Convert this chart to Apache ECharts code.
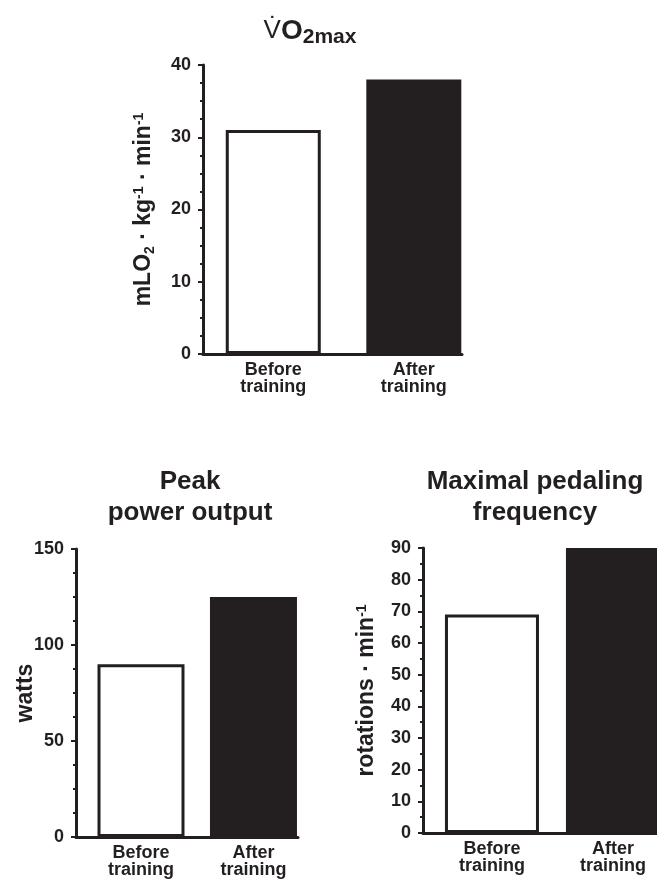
<!DOCTYPE html>
<html>
<head>
<meta charset="utf-8">
<script src="https://cdn.jsdelivr.net/npm/echarts@6/dist/echarts.min.js"></script>
<style>
  html, body { margin: 0; padding: 0; background: #fff; }
  #chart { width: 657px; height: 880px; }
</style>
</head>
<body>
<div id="chart"></div>
<script>
// data
var categories = ['Before\ntraining', 'After\ntraining'];
var vo2Values = [31, 38];
var powerValues = [90, 125];
var pedalValues = [69, 90];
var vo2Ticks = [0, 10, 20, 30, 40];
var powerTicks = [0, 50, 100, 150];
var pedalTicks = [0, 10, 20, 30, 40, 50, 60, 70, 80, 90];

var ink = '#231f20';
var font = '"Liberation Sans", Arial, Helvetica, sans-serif';

var myChart = echarts.init(document.getElementById('chart'));

var nameRich = {
  b: { fontSize: 23, fontWeight: 'bold', color: ink, fontFamily: font },
  sub: { fontSize: 14, fontWeight: 'bold', color: ink, fontFamily: font, padding: [12, 0, 0, 0] },
  sup: { fontSize: 14, fontWeight: 'bold', color: ink, fontFamily: font, padding: [0, 0, 10, 0] }
};

// one panel = one grid + axes + bar series
function panel(i, grid, values, ticks, minorSplit, name, nameGap, barWidth, xMin, xMax) {
  var yMin = ticks[0], yMax = ticks[ticks.length - 1];
  return {
    grid: Object.assign({ containLabel: false }, grid),
    xAxis: {
      gridIndex: i, type: 'value', min: xMin, max: xMax,
      splitLine: { show: false },
      axisLine: { show: true, onZero: false, lineStyle: { color: ink, width: 3 } },
      axisTick: { show: false },
      axisLabel: {
        customValues: categories.map(function (c, k) { return k + 0.5; }),
        formatter: function (v) { return categories[Math.round(v - 0.5)] || ''; },
        color: ink, fontSize: 18, fontWeight: 'bold', fontFamily: font,
        lineHeight: 17, margin: 8, align: 'center'
      }
    },
    yAxis: {
      gridIndex: i, type: 'value', min: yMin, max: yMax, interval: ticks[1] - ticks[0],
      splitLine: { show: false },
      axisLine: { show: true, onZero: false, lineStyle: { color: ink, width: 3 } },
      axisTick: { show: true, length: 5, lineStyle: { color: ink, width: 2 } },
      minorTick: { show: true, splitNumber: minorSplit, length: 3, lineStyle: { color: ink, width: 2 } },
      axisLabel: { color: ink, fontSize: 18, fontWeight: 'bold', fontFamily: font, margin: 12 },
      name: name, nameLocation: 'middle', nameGap: nameGap, nameMoveOverlap: false,
      nameTextStyle: { color: ink, fontSize: 23, fontWeight: 'bold', fontFamily: font, rich: nameRich }
    },
    series: {
      type: 'bar', xAxisIndex: i, yAxisIndex: i, barWidth: barWidth,
      data: values.map(function (v, k) {
        return {
          value: [k + 0.5, v],
          itemStyle: k === 0
            ? { color: '#fff', borderColor: ink, borderWidth: 3 }
            : { color: ink, borderWidth: 0 }
        };
      })
    }
  };
}

var panels = [
  panel(0, { left: 203, top: 65, width: 259, height: 289 }, vo2Values, vo2Ticks, 4,
    '{b|mLO}{sub|2}{b| · kg}{sup|-1}{b| · min}{sup|-1}', 46, 95, 0, 1.843),
  panel(1, { left: 76, top: 549, width: 222, height: 288 }, powerValues, powerTicks, 4,
    '{b|watts}', 39, 87, -0.078, 1.896),
  panel(2, { left: 423, top: 548, width: 234, height: 285 }, pedalValues, pedalTicks, 2,
    '{b|rotations · min}{sup|-1}', 44, 94, -0.07, 1.864)
];

var titleStyle = { color: ink, fontSize: 26, fontWeight: 'bold', fontFamily: font, lineHeight: 31 };

option = {
  backgroundColor: '#fff',
  animation: false,
  title: [
    {
      text: '{v|V\u0307}{o|O}{s|2max}', left: 305, top: 9, textAlign: 'center',
      textStyle: {
        rich: {
          v: { fontSize: 26, fontWeight: 'normal', color: ink, fontFamily: font, lineHeight: 30 },
          o: { fontSize: 28, fontWeight: 'bold', color: ink, fontFamily: font, lineHeight: 30 },
          s: { fontSize: 21, fontWeight: 'bold', color: ink, fontFamily: font, padding: [13, 0, 0, 0] }
        }
      }
    },
    { text: 'Peak\npower output', left: 185, top: 461, textAlign: 'center', textStyle: titleStyle },
    { text: 'Maximal pedaling\nfrequency', left: 530, top: 461, textAlign: 'center', textStyle: titleStyle }
  ],
  grid: panels.map(function (p) { return p.grid; }),
  xAxis: panels.map(function (p) { return p.xAxis; }),
  yAxis: panels.map(function (p) { return p.yAxis; }),
  series: panels.map(function (p) { return p.series; })
};

myChart.setOption(option);
</script>
</body>
</html>
